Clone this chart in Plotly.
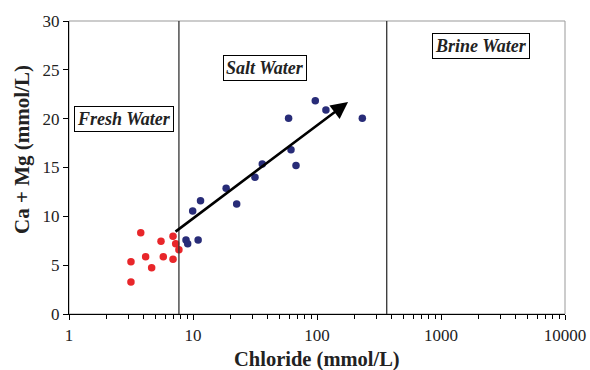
import math
import plotly.graph_objects as go

fresh_cl = [3.16, 3.16, 3.79, 4.15, 4.64, 5.52, 5.76, 6.90, 6.90, 7.25, 7.7]
fresh_camg = [5.35, 3.28, 8.32, 5.87, 4.74, 7.44, 5.87, 7.95, 5.6, 7.2, 6.58]

salt_cl = [8.78, 9.06, 11.0, 9.94, 11.5, 18.5, 22.5, 31.6, 36.2, 59, 61.7, 67.7, 96.9, 118, 232]
salt_camg = [7.57, 7.2, 7.57, 10.54, 11.6, 12.87, 11.26, 13.99, 15.35, 20.03, 16.82, 15.2, 21.83, 20.88, 20.03]

boundaries = [7.7, 365]
arrow_start = (7.03, 8.32)
arrow_end = (178, 21.7)

zone_labels = ["Fresh Water", "Salt Water", "Brine Water"]
zone_label_x = [2.78, 38, 2090]
zone_label_y = [20.0, 25.2, 27.4]

x_ticks = [1, 10, 100, 1000, 10000]
x_minor = [m * 10 ** d for d in range(4) for m in range(2, 10)]
y_ticks = [0, 5, 10, 15, 20, 25, 30]

FONT = "Liberation Serif, Times New Roman, serif"

fig = go.Figure()
fig.add_trace(go.Scatter(x=fresh_cl, y=fresh_camg, mode="markers",
                         marker=dict(color="#e8262a", size=7.5), showlegend=False))
fig.add_trace(go.Scatter(x=salt_cl, y=salt_camg, mode="markers",
                         marker=dict(color="#282c78", size=7.5), showlegend=False))

# gray frame (top/right)
fig.add_shape(type="rect", xref="paper", yref="paper", x0=0, y0=0, x1=1, y1=1,
              line=dict(color="#999999", width=1), layer="below")

for b in boundaries:
    fig.add_shape(type="line", xref="x", yref="y", x0=b, x1=b, y0=0, y1=30,
                  line=dict(color="#333333", width=1.3))

fig.add_annotation(x=math.log10(arrow_end[0]), y=arrow_end[1],
                   ax=math.log10(arrow_start[0]), ay=arrow_start[1],
                   xref="x", yref="y", axref="x", ayref="y",
                   showarrow=True, arrowhead=2, arrowsize=1.3, arrowwidth=2.6,
                   arrowcolor="black", text="")

for t, lx, ly in zip(zone_labels, zone_label_x, zone_label_y):
    fig.add_annotation(x=math.log10(lx), y=ly, xref="x", yref="y",
                       text="<b><i>" + t + "</i></b>", showarrow=False,
                       font=dict(family=FONT, size=18, color="#222222"),
                       bordercolor="black", borderwidth=1, borderpad=2,
                       bgcolor="white")

# axis titles (placed as text)
fig.add_annotation(xref="paper", yref="paper", x=0, y=0.56, xshift=-47,
                   text="<b>Ca + Mg (mmol/L)</b>", textangle=-90, showarrow=False,
                   xanchor="center", yanchor="middle",
                   font=dict(family=FONT, size=21, color="#222"))
fig.add_annotation(xref="paper", yref="paper", x=0.5, y=0, yshift=-45,
                   text="<b>Chloride (mmol/L)</b>", showarrow=False,
                   xanchor="center", yanchor="middle",
                   font=dict(family=FONT, size=20.5, color="#222"))

fig.update_xaxes(type="log", range=[0, 4], tickvals=x_ticks,
                 ticktext=[str(v) for v in x_ticks],
                 ticks="outside", ticklen=5, tickcolor="black",
                 showline=True, linecolor="black", linewidth=1.3,
                 showgrid=False, zeroline=False, automargin=False,
                 minor=dict(tickvals=x_minor, ticks="outside", ticklen=4,
                            tickcolor="black", showgrid=False),
                 tickfont=dict(family=FONT, size=17, color="#222"))
fig.update_yaxes(range=[0, 30], tickvals=y_ticks,
                 ticks="outside", ticklen=5, tickcolor="black",
                 showline=True, linecolor="black", linewidth=1.3,
                 showgrid=False, zeroline=False, automargin=False,
                 tickfont=dict(family=FONT, size=17, color="#222"))

fig.update_layout(width=590, height=370, margin=dict(l=69, r=25, t=21, b=56),
                  plot_bgcolor="white", paper_bgcolor="white")
fig.write_html("out.html", config={"displayModeBar": False},
               post_script="document.body.style.margin='0';")
